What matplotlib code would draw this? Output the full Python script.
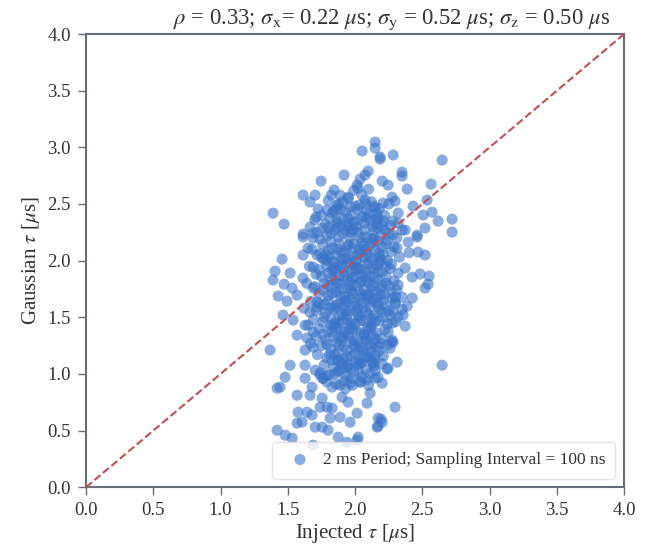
import matplotlib
matplotlib.use("Agg")
import matplotlib.pyplot as plt

plt.rcParams['font.family'] = ['Liberation Serif', 'DejaVu Serif']
plt.rcParams['mathtext.fontset'] = 'stix'

# Sparse points around the edges of the cloud (injected tau, gaussian tau) in us
edge_x = [2.149, 2.149, 2.052, 2.186, 2.186, 2.283, 2.647, 2.097, 2.074, 2.037,
          2.349, 2.349, 2.201, 2.245, 2.387, 2.565, 2.275, 2.297, 2.208, 2.535,
          2.431, 2.572, 2.506, 2.617, 2.721, 2.721, 2.520, 2.461, 2.372, 2.320,
          2.171, 2.149, 2.074, 2.022,
          1.747, 1.613, 1.703, 1.665, 1.390, 1.472, 1.613, 1.918, 1.844, 1.888,
          1.822, 1.948, 2.015, 1.792, 1.725, 1.866, 1.963, 1.710, 1.814, 1.665,
          1.755, 1.688, 1.866, 1.978,
          1.457, 1.405, 1.390, 1.472, 1.517, 1.613, 1.651, 1.613, 1.688, 1.428,
          1.494, 1.532, 1.569, 1.465, 1.539, 1.569, 1.628, 1.613, 1.688, 1.717,
          1.665, 1.688, 1.643, 1.688, 1.755, 1.717,
          1.368, 1.517, 1.480, 1.420, 1.442, 1.569, 1.628, 1.680, 1.576, 1.643,
          1.680, 1.569, 1.606, 1.420, 1.480, 1.532, 1.703, 1.755, 1.799, 1.814,
          1.740, 1.792, 1.829, 1.888, 1.963, 2.015, 1.874, 1.940, 2.022, 1.688,
          1.948, 2.089, 1.903, 1.755, 1.665, 2.171, 2.201, 2.164, 2.297, 2.647,
          2.201, 2.112, 2.312, 2.245, 2.149, 2.037, 1.963, 1.888, 1.829, 1.762,
          1.703, 1.628, 1.628, 1.688, 1.740, 1.792, 1.940, 1.866, 2.037, 2.134,
          2.149, 2.238, 2.283, 2.260, 2.238, 2.193, 2.171, 2.015,
          2.394, 2.461, 2.468, 2.520, 2.312, 2.372, 2.483, 2.550, 2.543, 2.520,
          2.424, 2.320, 2.349, 2.424, 2.387, 2.297, 2.283, 2.320, 2.357, 2.372,
          2.275, 2.245, 2.275]
edge_y = [3.046, 2.993, 2.967, 2.914, 2.896, 2.932, 2.887, 2.790, 2.755, 2.720,
          2.781, 2.746, 2.702, 2.667, 2.631, 2.675, 2.561, 2.525, 2.508, 2.534,
          2.481, 2.428, 2.402, 2.349, 2.366, 2.252, 2.287, 2.225, 2.269, 2.331,
          2.375, 2.464, 2.534, 2.640,
          2.702, 2.578, 2.578, 2.517, 2.419, 2.322, 2.234, 2.755, 2.623, 2.578,
          2.578, 2.561, 2.667, 2.446, 2.455, 2.490, 2.472, 2.384, 2.375, 2.296,
          2.287, 2.243, 2.296, 2.269,
          2.013, 1.907, 1.828, 1.792, 1.890, 2.049, 2.110, 2.208, 2.199, 1.687,
          1.642, 1.757, 1.695, 1.519, 1.475, 1.342, 1.430, 1.845, 1.757, 1.634,
          1.545, 1.369, 1.316, 1.943, 2.022, 2.049,
          1.210, 1.077, 0.971, 0.874, 0.883, 0.812, 0.962, 0.883, 0.662, 0.662,
          0.636, 0.565, 0.574, 0.503, 0.459, 0.433, 0.530, 0.530, 0.503, 0.609,
          0.706, 0.706, 0.698, 0.618, 0.574, 0.653, 0.442, 0.397, 0.442, 0.371,
          0.751, 0.742, 0.795, 0.786, 0.812, 0.609, 0.574, 0.530, 0.706, 1.077,
          0.918, 0.830, 1.104, 1.051, 0.962, 0.927, 0.918, 0.901, 0.883, 0.962,
          1.033, 1.077, 1.210, 1.236, 0.989, 0.989, 1.060, 1.121, 1.095, 1.095,
          1.166, 1.254, 1.280, 1.227, 1.042, 0.600, 0.539, 0.415,
          2.163, 2.208, 2.075, 2.049, 2.110, 1.934, 1.881, 1.863, 1.792, 1.757,
          1.854, 1.784, 1.678, 1.669, 1.598, 1.634, 1.545, 1.501, 1.519, 1.422,
          1.448, 1.369, 1.298]

# Dense core of the cloud
core_x = [1.95, 2.05, 2.12, 1.88, 2.00, 2.18, 1.80, 2.08, 1.93, 2.25, 1.99, 2.10,
          1.75, 1.83, 1.90, 1.97, 2.03, 2.10, 2.16, 2.22, 2.28, 1.86, 1.94, 2.01,
          2.07, 2.13, 2.20, 1.78, 2.32, 1.70,
          1.72, 1.79, 1.85, 1.91, 1.96, 2.02, 2.08, 2.14, 2.19, 2.25, 2.31, 1.82,
          1.88, 1.95, 2.05, 2.11, 2.17, 2.23, 2.29, 1.76, 1.99, 2.35,
          1.68, 1.74, 1.80, 1.86, 1.92, 1.98, 2.03, 2.09, 2.15, 2.21, 2.27, 2.33,
          1.77, 1.84, 1.90, 1.96, 2.01, 2.07, 2.13, 2.18, 2.24, 1.94, 2.06, 2.40,
          1.66, 1.73, 1.79, 1.85, 1.91, 1.97, 2.02, 2.08, 2.14, 2.20, 2.26, 2.32,
          1.75, 1.82, 1.88, 1.94, 2.00, 2.05, 2.11, 2.17, 2.23, 2.29, 1.99, 2.10,
          1.64, 1.70, 1.77, 1.83, 1.89, 1.95, 2.01, 2.07, 2.13, 2.19, 2.25, 2.31,
          1.73, 1.80, 1.86, 1.92, 1.98, 2.04, 2.10, 2.16, 2.22, 2.28, 1.96, 2.04,
          1.67, 1.74, 1.80, 1.86, 1.93, 1.99, 2.05, 2.11, 2.17, 2.23, 2.30, 1.71,
          1.78, 1.84, 1.90, 1.96, 2.02, 2.08, 2.14, 2.20, 2.26, 1.62, 2.35,
          1.69, 1.76, 1.82, 1.88, 1.94, 2.00, 2.06, 2.12, 2.18, 2.24, 2.30, 1.73,
          1.80, 1.86, 1.92, 1.98, 2.04, 2.10, 2.16, 2.22, 1.65,
          1.71, 1.78, 1.84, 1.90, 1.96, 2.02, 2.08, 2.14, 2.20, 2.27, 1.75, 1.82,
          1.88, 1.94, 2.00, 2.06, 2.12, 2.18, 1.67,
          1.72, 1.79, 1.85, 1.91, 1.97, 2.03, 2.09, 2.15, 2.21, 1.77, 1.84, 1.90,
          1.96, 2.02, 2.08, 2.14,
          1.74, 1.81, 1.87, 1.93, 1.99, 2.05, 2.11, 2.17, 1.79, 1.86, 1.92, 1.98,
          2.04, 2.10,
          1.87, 1.93, 2.05, 2.12, 1.98, 2.18, 1.90, 2.04, 2.15, 1.87, 1.97, 2.09,
          2.19, 1.91, 2.01, 2.13, 1.85, 1.96, 2.07, 1.89, 2.00, 2.11, 1.83, 2.23,
          1.81, 2.26, 2.08, 1.89, 2.30, 1.77, 2.02, 1.95, 2.16, 1.83, 2.12, 1.94,
          2.05, 1.93, 2.20, 1.88]
core_y = [2.55, 2.58, 2.52, 2.50, 2.48, 2.46, 2.53, 2.44, 2.43, 2.50, 2.62, 2.63,
          2.40, 2.42, 2.38, 2.40, 2.36, 2.41, 2.37, 2.40, 2.35, 2.33, 2.31, 2.30,
          2.33, 2.30, 2.31, 2.32, 2.42, 2.36,
          2.25, 2.22, 2.27, 2.24, 2.20, 2.25, 2.21, 2.26, 2.22, 2.24, 2.20, 2.17,
          2.15, 2.14, 2.16, 2.13, 2.17, 2.15, 2.12, 2.14, 2.28, 2.27,
          2.10, 2.06, 2.09, 2.05, 2.08, 2.04, 2.10, 2.06, 2.09, 2.05, 2.08, 2.03,
          2.01, 1.99, 2.01, 1.98, 2.00, 1.97, 2.01, 1.98, 2.00, 2.12, 2.13, 2.07,
          1.95, 1.92, 1.95, 1.91, 1.94, 1.90, 1.93, 1.89, 1.93, 1.90, 1.93, 1.89,
          1.86, 1.84, 1.87, 1.83, 1.86, 1.82, 1.86, 1.83, 1.86, 1.82, 1.96, 1.97,
          1.80, 1.77, 1.80, 1.76, 1.79, 1.75, 1.78, 1.74, 1.78, 1.75, 1.78, 1.74,
          1.71, 1.69, 1.72, 1.68, 1.71, 1.67, 1.70, 1.67, 1.70, 1.67, 1.81, 1.81,
          1.64, 1.62, 1.65, 1.61, 1.64, 1.60, 1.63, 1.59, 1.63, 1.60, 1.62, 1.56,
          1.54, 1.57, 1.53, 1.56, 1.52, 1.55, 1.51, 1.55, 1.52, 1.58, 1.57,
          1.48, 1.46, 1.49, 1.45, 1.48, 1.44, 1.47, 1.43, 1.47, 1.44, 1.46, 1.40,
          1.38, 1.41, 1.37, 1.40, 1.36, 1.39, 1.36, 1.39, 1.43,
          1.33, 1.30, 1.33, 1.29, 1.32, 1.28, 1.31, 1.27, 1.31, 1.28, 1.25, 1.22,
          1.25, 1.21, 1.24, 1.20, 1.23, 1.20, 1.27,
          1.17, 1.14, 1.17, 1.13, 1.16, 1.12, 1.15, 1.12, 1.16, 1.08, 1.06, 1.09,
          1.05, 1.08, 1.04, 1.07,
          1.01, 0.99, 1.02, 0.98, 1.01, 0.97, 1.00, 0.97, 0.93, 0.91, 0.94, 0.90,
          0.93, 0.90,
          2.35, 2.27, 2.39, 2.19, 2.11, 2.03, 1.97, 1.92, 1.85, 1.80, 1.73, 1.66,
          1.70, 1.60, 1.55, 1.49, 1.45, 1.43, 1.35, 1.32, 1.18, 1.26, 1.12, 1.95,
          2.03, 2.31, 2.50, 2.45, 1.68, 1.61, 2.05, 2.33, 2.42, 1.92, 1.76, 1.52,
          1.10, 0.87, 1.09, 1.03]

# Extra points filling the saturated centre
fill_x = [1.84, 1.91, 2.02, 2.14, 2.21, 1.80, 1.88, 1.97, 2.04, 2.11, 2.17, 2.24,
          1.74, 1.83, 1.90, 1.99, 2.08, 2.13, 2.20, 2.28, 1.79, 1.87, 1.93, 2.01,
          2.06, 2.12, 2.19, 2.27, 1.71, 1.80, 1.85, 1.92, 1.98, 2.05, 2.10, 2.17,
          2.23, 1.76, 1.83, 1.90, 1.97, 2.03, 2.09, 2.15, 2.21, 2.27, 1.72, 1.81,
          1.88, 1.93, 2.00, 2.06, 2.12, 2.18, 2.25, 1.77, 1.84, 1.91, 1.97, 2.03,
          2.09, 2.15, 2.21, 1.76, 1.83, 1.89, 1.95, 2.01, 2.07, 2.13, 2.19, 1.79,
          1.86, 1.92, 1.99, 2.05, 2.11, 2.17, 1.81, 1.88, 1.94, 2.00, 2.07, 2.13,
          1.85, 1.91, 1.97, 2.03, 2.09, 1.76, 2.15,
          1.86, 1.95, 2.03, 2.09, 2.16, 1.82, 1.90, 1.99, 2.07, 2.14, 2.22, 1.78,
          1.87, 1.95, 2.04, 2.11, 2.18, 1.84, 1.92, 2.00, 2.08, 2.16, 1.80, 1.89,
          1.97, 2.05, 2.13, 2.20, 1.85, 1.93, 2.02, 2.10, 2.17, 1.88, 1.96, 2.04,
          2.12, 1.82, 1.91, 1.99, 2.07, 2.15, 1.87, 1.95, 2.03, 2.11]
fill_y = [2.44, 2.52, 2.45, 2.48, 2.35, 2.29, 2.21, 2.25, 2.20, 2.35, 2.29, 2.18,
          2.19, 2.11, 2.07, 2.15, 2.10, 2.16, 2.12, 2.23, 2.00, 1.96, 2.02, 1.95,
          2.03, 1.93, 2.00, 1.97, 1.88, 1.89, 1.83, 1.90, 1.85, 1.88, 1.81, 1.90,
          1.80, 1.74, 1.71, 1.75, 1.66, 1.73, 1.69, 1.73, 1.65, 1.72, 1.59, 1.58,
          1.62, 1.56, 1.63, 1.58, 1.64, 1.57, 1.56, 1.50, 1.43, 1.48, 1.45, 1.50,
          1.42, 1.46, 1.50, 1.35, 1.37, 1.39, 1.34, 1.38, 1.29, 1.34, 1.27, 1.26,
          1.28, 1.24, 1.29, 1.23, 1.19, 1.24, 1.17, 1.12, 1.15, 1.10, 1.14, 1.10,
          1.00, 1.04, 0.96, 1.02, 0.95, 0.96, 1.03,
          2.46, 2.37, 2.49, 2.38, 2.33, 2.24, 2.30, 2.34, 2.27, 2.20, 2.27, 2.05,
          2.10, 2.02, 2.07, 2.03, 2.07, 1.94, 1.86, 1.92, 1.84, 1.96, 1.78, 1.69,
          1.78, 1.70, 1.66, 1.78, 1.59, 1.65, 1.58, 1.52, 1.60, 1.51, 1.40, 1.47,
          1.41, 1.43, 1.33, 1.26, 1.34, 1.31, 1.19, 1.08, 1.21, 1.14]

inj_tau = edge_x + core_x + fill_x
gauss_tau = edge_y + core_y + fill_y

grey = '#676e77'
fig = plt.figure(figsize=(6.57, 5.53), dpi=100)
ax = fig.add_axes([0.131, 0.119, 0.819, 0.8195])

ax.scatter(inj_tau, gauss_tau, s=64, color='#3a74c8', alpha=0.6, edgecolors='none',
           label='2 ms Period; Sampling Interval = 100 ns', zorder=2)
ax.plot([0, 4], [0, 4], linestyle='--', color='#c44e52', linewidth=1.5, zorder=3)

ax.set_xlim(0, 4)
ax.set_ylim(0, 4)
ticks = [0.0, 0.5, 1.0, 1.5, 2.0, 2.5, 3.0, 3.5, 4.0]
ax.set_xticks(ticks)
ax.set_yticks(ticks)
ax.set_xticklabels([f'{t:.1f}' for t in ticks])
ax.set_yticklabels([f'{t:.1f}' for t in ticks])
ax.tick_params(direction='out', length=6, width=1, color=grey, labelcolor='#333333',
               labelsize=13.5, pad=5)
for sp in ax.spines.values():
    sp.set_color(grey)
    sp.set_linewidth(1.5)

ax.set_xlabel(r'Injected $\tau$ [$\mu$s]', fontsize=15, color='#333333', labelpad=2)
ax.set_ylabel(r'Gaussian $\tau$ [$\mu$s]', fontsize=15, color='#333333', labelpad=4)
ax.set_title(r'$\rho$ = 0.33; $\sigma_{\mathrm{x}}$= 0.22 $\mu$s; '
             r'$\sigma_{\mathrm{y}}$ = 0.52 $\mu$s; $\sigma_{\mathrm{z}}$ = 0.50 $\mu$s',
             fontsize=16.3, color='#333333', pad=7, x=0.567)

leg = ax.legend(loc='lower right', fontsize=12.5, frameon=True, framealpha=0.8,
                edgecolor='#dddddd', handletextpad=0.3, borderpad=0.6)
for t in leg.get_texts():
    t.set_color('#333333')

fig.savefig('out.png', dpi=100)
